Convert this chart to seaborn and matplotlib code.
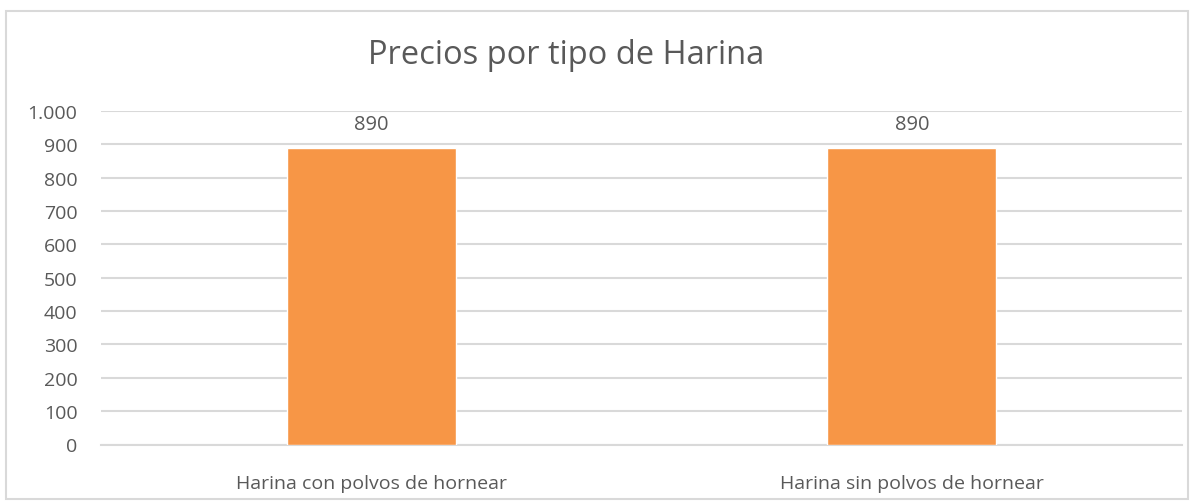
import matplotlib.pyplot as plt
import matplotlib.ticker as mticker
import pandas as pd
import seaborn as sns
from matplotlib.patches import Rectangle

categories = ["Harina con polvos de hornear", "Harina sin polvos de hornear"]
precios = [890, 890]
yticks = [0, 100, 200, 300, 400, 500, 600, 700, 800, 900, 1000]

df = pd.DataFrame({"tipo": categories, "precio": precios})

sns.set_theme(style="white")
plt.rcParams["font.family"] = ["Open Sans", "DejaVu Sans"]
text_color = "#595959"
grid_color = "#d9d9d9"

fig = plt.figure(figsize=(11.98, 5.02), dpi=100)
fig.patches.append(Rectangle((6 / 1198, 2 / 502), 1182 / 1198, 488 / 502,
                             transform=fig.transFigure, fill=False,
                             edgecolor=grid_color, linewidth=1.5))
ax = fig.add_axes([101 / 1198, 1 - 445.5 / 502, 1081 / 1198, 333.5 / 502])

sns.barplot(data=df, x="tipo", y="precio", color="#f79646", saturation=1,
            width=0.313, ax=ax, zorder=3)

ax.set_ylim(0, 1000)
ax.set_xlim(-0.5, 1.5)
ax.set_yticks(yticks)
ax.yaxis.set_major_formatter(mticker.FuncFormatter(lambda v, p: f"{int(v):,}".replace(",", ".")))
ax.grid(axis="y", color=grid_color, linewidth=1.5, zorder=0)
for s in ["left", "right", "top"]:
    ax.spines[s].set_visible(False)
ax.spines["bottom"].set_color(grid_color)
ax.spines["bottom"].set_linewidth(1.5)
ax.tick_params(axis="both", length=0, labelsize=14, colors=text_color)
ax.tick_params(axis="y", pad=17)
ax.tick_params(axis="x", pad=21)
ax.set_xlabel("")
ax.set_ylabel("")

for c in ax.containers:
    ax.bar_label(c, labels=[f"{v:g}" for v in precios], padding=10,
                 fontsize=14.5, color=text_color)

fig.text(566 / 1198, 1 - 56 / 502, "Precios por tipo de Harina", ha="center",
         va="center", fontsize=23.5, color=text_color)

fig.savefig("out.png", dpi=100)
